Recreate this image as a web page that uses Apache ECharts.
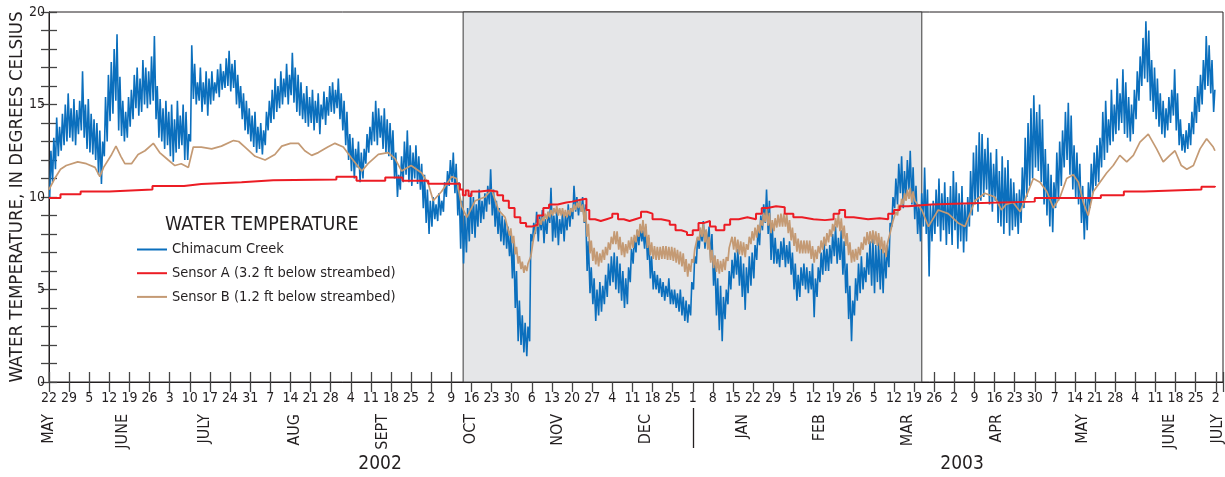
<!DOCTYPE html>
<html>
<head>
<meta charset="utf-8">
<script src="https://cdn.jsdelivr.net/npm/echarts@6/dist/echarts.min.js"></script>
<style>
html,body{margin:0;padding:0;background:#fff;}
#chart{width:1225px;height:477px;}
</style>
</head>
<body>
<div id="chart"></div>
<script>
// Day 0 = 22 May 2002. Values in degrees Celsius.
const weekTickLabels = ['22','29','5','12','19','26','3','10','17','24','31','7','14','21','28','4','11','18','25','2','9','16','23','30','6','13','20','27','4','11','18','25','1','8','15','22','29','5','12','19','26','5','12','19','26','2','9','16','23','30','7','14','21','28','4','11','18','25','2'];
const monthLabels = ['MAY','JUNE','JULY','AUG','SEPT','OCT','NOV','DEC','JAN','FEB','MAR','APR','MAY','JUNE','JULY'];
const monthLabelDays = [0, 25.7, 54.3, 85.6, 116.2, 146.8, 177.1, 207.7, 241.5, 268.3, 298.9, 329.9, 359.8, 390, 406.8];
const yearLabels = ['2002','2003'];
const yearLabelDays = [115.2, 317.7];
const yearBreakDay = 224;
const shadedPeriod = [144.1, 303.7];

// Chimacum Creek: daily maximum and minimum (one value per day from day 0)
const creekHigh = [
12.5,13.2,14.3,13.8,14.5,15.0,15.6,
14.8,15.3,14.7,15.2,16.8,15.0,15.3,
14.5,14.2,14.0,13.6,13.0,15.4,16.6,
17.3,18.0,18.8,16.5,15.2,14.6,15.4,
15.8,16.6,17.0,16.4,17.4,17.0,16.8,
17.6,18.7,16.0,15.3,14.8,15.2,14.6,
15.0,14.2,15.2,14.4,15.0,14.6,13.4,
18.2,17.2,16.2,17.0,16.2,16.8,16.4,
16.8,16.2,16.9,17.2,16.8,17.5,17.9,
17.2,17.4,16.6,16.0,15.6,15.2,14.8,
14.4,14.6,13.8,14.0,13.6,14.6,15.2,
15.8,16.4,16.0,16.8,16.4,17.2,16.6,
17.8,17.0,16.6,16.2,15.6,16.0,15.4,
15.8,15.2,15.6,15.0,15.7,15.4,16.0,
16.2,15.8,16.4,15.6,15.2,14.6,13.4,
13.2,12.6,13.0,12.4,12.6,13.4,13.8,
14.6,15.2,14.8,14.4,14.8,14.2,14.0,
13.6,12.4,11.2,12.2,13.0,13.6,12.8,
12.4,12.8,12.2,11.8,11.2,10.4,9.8,
10.0,9.6,10.2,9.8,10.8,11.4,12.0,
12.4,11.8,10.8,9.8,9.0,9.4,10.2,
10.0,9.6,10.4,9.8,10.2,10.6,11.5,
10.4,9.8,9.4,9.0,8.8,8.4,8.0,
7.6,6.0,4.4,3.6,3.2,3.0,8.0,
8.6,9.2,9.0,9.3,8.8,9.2,10.5,
9.0,9.4,8.8,9.2,9.0,9.6,9.4,
10.6,10.0,9.8,10.0,9.6,7.6,6.2,
5.6,5.0,5.4,5.2,5.8,6.4,6.8,
7.0,6.8,6.4,6.0,5.6,6.2,7.2,
7.8,8.2,8.4,8.2,8.4,7.8,6.8,
6.0,5.8,5.6,5.4,5.2,5.6,5.0,
5.0,4.8,5.0,4.6,4.4,4.2,5.4,
6.8,7.8,8.2,8.7,8.2,8.4,8.0,
6.8,5.6,5.2,4.6,5.0,6.0,6.6,
7.0,7.2,6.8,6.4,6.2,6.8,7.0,
7.4,8.2,9.0,9.6,10.4,9.8,8.4,
7.8,7.2,7.6,7.8,7.4,7.6,7.0,
6.4,5.8,6.2,6.4,6.2,6.0,6.4,
5.6,6.2,7.0,7.6,7.2,7.4,8.0,
8.4,7.8,8.2,7.6,6.4,5.2,4.4,
5.6,6.4,6.8,6.2,7.0,7.6,7.8,
7.4,7.6,7.2,7.0,7.4,8.6,10.0,
11.0,11.8,12.2,11.4,12.0,12.5,11.6,
10.6,9.6,10.2,11.6,10.4,9.6,9.8,
10.4,11.0,10.2,10.8,10.0,10.6,11.4,
10.8,10.2,10.6,9.6,10.0,11.4,12.4,
12.8,13.5,13.4,12.6,13.2,12.4,11.8,
12.6,11.4,12.2,11.6,12.0,11.0,10.8,
10.2,10.4,11.6,13.2,14.0,14.8,15.5,
14.6,15.0,14.2,12.6,11.8,11.2,10.8,
12.4,13.0,13.6,14.6,15.1,14.4,12.8,
12.4,11.8,10.6,10.0,10.8,11.8,12.4,
12.8,13.2,14.6,15.2,14.2,15.8,15.0,
16.4,15.6,16.9,16.2,15.4,15.0,15.8,
16.8,17.6,18.6,19.5,19.0,17.4,17.0,
16.4,15.6,15.2,14.8,15.4,15.8,16.9,
15.6,14.2,13.4,13.6,14.0,14.6,15.4,
16.0,16.6,17.4,18.7,18.2,17.4,15.8
];
const creekLow = [
10.0,10.8,11.5,12.2,12.5,12.8,13.0,
13.2,13.0,12.8,13.4,13.6,13.2,12.6,
12.4,12.3,12.0,11.2,10.7,12.2,13.0,
14.1,14.5,15.2,13.6,13.3,13.0,13.2,
13.8,14.2,14.8,14.4,14.6,15.0,14.8,
15.0,15.2,14.2,13.2,13.0,12.6,12.8,
12.2,11.9,12.4,12.6,12.8,12.0,12.0,
13.0,15.3,15.0,15.2,14.6,15.0,14.4,
15.0,15.2,15.6,15.4,15.8,15.9,16.0,
15.7,15.9,15.0,14.8,14.2,13.6,13.4,
13.0,12.7,12.4,12.6,12.3,12.8,13.6,
14.0,14.2,14.6,14.8,15.0,15.4,15.0,
15.5,15.1,14.6,14.4,14.2,14.0,13.8,
14.0,13.6,14.0,13.4,14.2,13.9,14.4,
14.6,14.5,14.8,14.2,13.6,12.8,12.0,
11.4,11.0,11.6,10.8,11.0,11.8,12.4,
12.8,13.0,12.8,13.2,12.6,12.4,12.2,
12.0,11.0,10.0,10.4,10.8,11.2,10.8,
10.6,11.0,10.7,10.4,9.4,8.6,8.0,
8.4,8.8,8.7,9.0,9.2,10.0,10.6,
10.8,10.2,9.0,7.2,6.4,7.0,7.6,
8.0,7.8,8.4,8.6,8.8,9.2,9.6,
9.0,8.4,8.0,7.6,7.4,7.2,6.8,
5.6,4.0,2.2,2.0,1.6,1.4,2.2,
7.6,8.0,7.6,8.2,7.5,8.0,8.6,
7.6,7.8,7.4,8.0,7.6,8.2,8.4,
8.8,9.2,9.0,9.2,8.6,6.0,4.8,
4.2,3.3,3.6,3.8,4.2,4.6,5.2,
5.4,5.0,4.8,4.4,4.0,4.2,5.4,
6.4,7.0,7.4,7.6,7.2,6.6,5.6,
5.0,5.0,4.8,4.6,4.4,4.6,4.2,
4.2,4.0,3.8,3.6,3.3,3.2,3.6,
5.0,6.4,7.2,7.6,7.2,7.4,6.6,
5.2,3.6,2.8,2.2,3.4,4.2,5.0,
5.6,5.8,5.2,4.6,3.9,4.8,5.2,
5.6,6.6,7.4,8.2,8.6,8.0,6.6,
6.4,6.4,6.2,6.6,6.2,6.4,5.8,
5.0,4.4,4.6,5.2,5.0,4.8,5.0,
3.5,4.6,5.4,5.8,6.0,6.0,6.4,
6.8,6.4,6.6,5.8,4.8,3.4,2.2,
3.6,4.4,4.8,5.0,5.4,5.8,5.2,
4.8,5.4,5.0,4.8,5.6,6.2,8.4,
9.4,9.6,10.2,9.4,10.0,10.4,9.6,
8.8,8.0,7.6,8.4,8.0,5.7,7.6,
8.0,8.4,7.6,8.2,7.4,8.0,7.4,
8.2,7.2,7.6,7.0,7.6,8.4,9.0,
9.6,9.2,9.8,10.0,10.4,9.6,9.2,
9.8,8.6,8.4,8.0,8.6,7.9,8.2,
8.4,8.0,8.6,9.4,10.0,10.6,11.0,
11.6,11.4,10.8,9.6,9.0,8.4,8.1,
9.4,9.8,10.6,11.6,12.0,11.2,10.4,
10.0,9.6,8.6,7.7,8.2,9.4,10.2,
10.6,10.8,11.6,12.0,12.4,12.8,13.0,
13.4,13.6,14.0,13.4,13.2,13.0,13.4,
14.2,15.2,16.0,16.4,16.2,15.2,14.6,
14.2,13.8,13.4,13.2,13.6,14.0,14.4,
13.6,12.8,12.5,12.4,12.6,12.8,13.4,
14.0,14.6,15.0,15.8,16.0,15.6,14.6
];

// Sensor A (3.2 ft): value holds until the next listed day
const sensorADays = [0,4,11,21,36,47,53,67,78,100,107,117,123,132,143,144,145,146,147,150,153,156,158,160,162,164,166,168,170,172,174,177,180,182,185,187,188,190,192,194,196,198,200,202,204,206,208,210,213,216,218,220,222,224,226,228,230,232,235,237,240,243,246,248,250,253,256,259,262,266,270,273,275,277,280,285,289,292,294,296,299,307,318,343,366,374,381,401,405.7];
const sensorAValues = [9.95,10.15,10.3,10.4,10.6,10.7,10.8,10.9,10.95,11.1,10.88,11.05,10.88,10.72,10.4,10.1,10.35,10.05,10.3,10.35,10.3,10.1,9.8,9.4,8.9,8.6,8.4,8.5,9.0,9.4,9.6,9.7,9.75,9.85,9.9,9.3,8.8,8.7,8.8,8.9,9.1,8.8,8.7,8.8,8.9,9.2,9.1,8.8,8.7,8.5,8.2,8.1,7.95,8.2,8.6,8.7,8.4,8.2,8.5,8.8,8.9,8.8,9.1,9.4,9.5,9.45,9.1,8.9,8.8,8.75,8.8,9.1,9.3,8.9,8.8,8.85,8.8,9.1,9.3,9.5,9.6,9.65,9.75,9.95,10.1,10.3,10.4,10.55,10.6];

// Sensor B (1.2 ft), before the winter band
const sensorBEarlyDays = [0,0.5,2,4,6,10,13,16,17.7,19,21.8,23.3,25,26.4,28.7,31,33.4,36.3,38.5,41.5,43.8,46,48.5,50.2,53,56.6,60,64.2,66,68.2,71.7,75.2,78.6,81,84,86.8,89,91.4,93.7,97,99.5,102.4,105.3,108.8,111,114.6,118,120.4,122.7,126,129.7,132,133.7,136.6,140.1,141.8,143.6,145.4,148.3,151.7,154,156.4,158.7];
const sensorBEarlyValues = [10.4,10.5,11.0,11.5,11.7,11.9,11.8,11.6,11.1,11.6,12.3,12.75,12.2,11.8,11.8,12.3,12.5,12.9,12.4,12.0,11.7,11.8,11.6,12.7,12.7,12.6,12.75,13.05,13.0,12.7,12.2,12.0,12.3,12.75,12.9,12.9,12.5,12.25,12.4,12.7,12.9,12.7,12.1,11.4,11.8,12.3,12.4,12.07,11.4,11.7,11.3,10.7,9.8,10.3,11.1,11.0,9.5,8.9,9.8,10.0,10.4,9.3,8.9];
// Sensor B daily low / high, days 160..300 (winter band)
const sensorBWinterFirstDay = 160;
const sensorBWinterLow = [7.9,7.5,6.9,6.4,6.1,5.9,6.0,6.4,7.4,8.2,8.4,8.5,8.7,8.8,8.9,9.0,9.1,9.0,9.0,8.9,8.9,9.0,9.2,9.3,9.4,9.2,
8.65,7.85,6.95,6.55,6.35,6.25,6.45,6.6,6.85,7.15,7.45,7.45,7.15,6.85,6.75,6.95,7.15,7.25,7.55,7.85,8.05,7.85,7.25,6.85,
6.65,6.6,6.6,6.65,6.65,6.6,6.6,6.55,6.45,6.35,6.25,5.95,5.7,5.95,6.45,7.15,7.65,7.85,7.55,7.15,6.45,6.15,5.95,5.85,5.95,6.05,6.55,7.15,
7.15,7.0,6.9,6.85,6.75,7.15,7.45,7.65,7.8,8.05,8.45,8.65,8.45,8.05,8.15,8.35,8.4,8.4,8.4,8.05,7.65,7.35,7.05,6.95,6.95,6.95,6.95,6.65,
6.45,6.65,6.95,7.15,7.35,7.55,7.85,8.15,8.35,8.15,7.75,7.35,6.85,6.45,6.5,6.6,6.85,7.15,7.4,7.45,7.5,7.45,7.35,7.15,6.95,6.75,7.35,
8.1,8.6,9.0,9.3,9.6,9.8,9.9,9.7];
const sensorBWinterHigh = [8.3,7.9,7.3,6.8,6.5,6.3,6.4,6.8,7.8,8.6,8.8,8.9,9.1,9.2,9.3,9.4,9.5,9.4,9.4,9.3,9.3,9.4,9.6,9.7,9.8,9.6,
9.35,8.55,7.65,7.25,7.05,6.95,7.15,7.3,7.55,7.85,8.15,8.15,7.85,7.55,7.45,7.65,7.85,7.95,8.25,8.55,8.75,8.55,7.95,7.55,
7.35,7.3,7.3,7.35,7.35,7.3,7.3,7.25,7.15,7.05,6.95,6.65,6.4,6.65,7.15,7.85,8.35,8.55,8.25,7.85,7.15,6.85,6.65,6.55,6.65,6.75,7.25,7.85,
7.85,7.7,7.6,7.55,7.45,7.85,8.15,8.35,8.5,8.75,9.15,9.35,9.15,8.75,8.85,9.05,9.1,9.1,9.1,8.75,8.35,8.05,7.75,7.65,7.65,7.65,7.65,7.35,
7.15,7.35,7.65,7.85,8.05,8.25,8.55,8.85,9.05,8.85,8.45,8.05,7.55,7.15,7.2,7.3,7.55,7.85,8.1,8.15,8.2,8.15,8.05,7.85,7.65,7.45,8.05,
8.7,9.2,9.6,9.9,10.2,10.4,10.5,10.3];
// Sensor B after the winter band
const sensorBLateDays = [301.3,303.7,306,309.4,312.9,316.3,318.7,322.2,325.6,329.1,331.4,333,335.5,337.9,340.2,342.5,344.8,347.2,349.5,351.8,354.1,356.4,358.2,359.9,361.6,363.4,365.7,368,370.3,372.6,375,377.3,379.6,382.5,385.4,387.7,390,391.8,394,395.9,398.2,400.5,402.8,405.1,405.7];
const sensorBLateValues = [9.8,9.3,8.4,9.3,9.1,8.6,8.4,9.8,10.2,10.0,9.3,9.6,9.7,9.2,10.1,11.0,10.8,10.3,9.4,10.0,11.0,11.2,10.8,9.7,9.0,10.3,10.8,11.3,11.7,12.25,11.9,12.25,12.97,13.4,12.6,11.9,12.25,12.5,11.7,11.5,11.7,12.6,13.15,12.7,12.5];

const seriesNames = ['Chimacum Creek','Sensor A (3.2 ft below streambed)','Sensor B (1.2 ft below streambed)'];

// ---- build series data ----
const creekData = [];
for (let i = 0; i < creekHigh.length; i++) {
  creekData.push([i + 0.25, creekLow[i]]);
  creekData.push([i + 0.67, creekHigh[i]]);
}
const sensorAData = sensorADays.map((d, i) => [d, sensorAValues[i]]);
const sensorBData = sensorBEarlyDays.map((d, i) => [d, sensorBEarlyValues[i]]);
for (let i = 0; i < sensorBWinterLow.length; i++) {
  sensorBData.push([sensorBWinterFirstDay + i + 0.25, sensorBWinterLow[i]]);
  sensorBData.push([sensorBWinterFirstDay + i + 0.67, sensorBWinterHigh[i]]);
}
sensorBLateDays.forEach((d, i) => sensorBData.push([d, sensorBLateValues[i]]));

const FONT = "'DejaVu Sans Condensed', 'Liberation Sans Narrow', sans-serif";
const INK = '#231f20';
const XMAX = 408.5;

const chart = echarts.init(document.getElementById('chart'), null, {renderer: 'canvas'});
const baseX = {type: 'value', min: 0, max: XMAX, gridIndex: 0, splitLine: {show: false}};
chart.setOption({
  animation: false,
  backgroundColor: '#ffffff',
  textStyle: {fontFamily: FONT, color: INK},
  title: {
    text: 'WATER TEMPERATURE',
    left: 165, top: 215,
    padding: 0,
    textStyle: {fontFamily: FONT, fontSize: 19.5, fontWeight: 'normal', color: INK}
  },
  legend: {
    data: seriesNames,
    orient: 'vertical',
    left: 137, top: 241,
    padding: 0,
    itemWidth: 30, itemHeight: 2, itemGap: 6.7,
    icon: 'rect',
    textStyle: {fontFamily: FONT, fontSize: 14.5, color: INK, lineHeight: 17}
  },
  grid: {left: 49, right: 2, top: 12, bottom: 95, show: true, borderColor: INK, borderWidth: 1, backgroundColor: 'transparent', outerBoundsMode: 'none', containLabel: false},
  xAxis: [
    Object.assign({}, baseX, {
      position: 'bottom', interval: 7,
      axisLine: {show: true, lineStyle: {color: INK, width: 1}},
      axisTick: {show: true, inside: true, length: 10, lineStyle: {color: '#444', width: 1.3}},
      axisLabel: {show: true, margin: 9, fontSize: 14, fontFamily: FONT, color: INK, showMinLabel: true, showMaxLabel: true, hideOverlap: false,
        formatter: function (v) { const k = Math.round(v / 7); return (Math.abs(v - k * 7) < 1e-6 && k < weekTickLabels.length) ? weekTickLabels[k] : ''; }}
    }),
    Object.assign({}, baseX, {
      position: 'top', interval: 7,
      axisLine: {show: true, lineStyle: {color: INK, width: 1}},
      axisTick: {show: true, inside: true, length: 10, lineStyle: {color: '#444', width: 1.3}},
      axisLabel: {show: false}
    }),
    Object.assign({}, baseX, {
      position: 'bottom',
      axisLine: {show: false}, axisTick: {show: false},
      axisLabel: {show: true, customValues: monthLabelDays, rotate: 90, margin: 32, fontSize: 16, fontFamily: FONT, color: INK, hideOverlap: false,
        formatter: function (v) { const i = monthLabelDays.indexOf(v); return i >= 0 ? monthLabels[i] : ''; }}
    }),
    Object.assign({}, baseX, {
      position: 'bottom',
      axisLine: {show: false}, axisTick: {show: false},
      axisLabel: {show: true, customValues: yearLabelDays, margin: 73, fontSize: 19, fontFamily: FONT, color: INK,
        formatter: function (v) { const i = yearLabelDays.indexOf(v); return i >= 0 ? yearLabels[i] : ''; }}
    }),
    Object.assign({}, baseX, {
      position: 'bottom', offset: 26,
      axisLine: {show: false},
      axisTick: {show: true, customValues: [yearBreakDay], inside: false, length: 40, lineStyle: {color: INK, width: 1.3}},
      axisLabel: {show: false}
    })
  ],
  yAxis: [
    {
      type: 'value', min: 0, max: 20, interval: 1, position: 'left',
      name: 'WATER TEMPERATURE, IN DEGREES CELSIUS',
      nameLocation: 'middle', nameGap: 22, nameRotate: 90, nameMoveOverlap: false,
      nameTextStyle: {fontFamily: FONT, fontSize: 18.5, color: INK},
      splitLine: {show: false},
      axisLine: {show: true, lineStyle: {color: INK, width: 1}},
      axisTick: {show: true, inside: true, length: 8, lineStyle: {color: '#444', width: 1.3}},
      axisLabel: {show: true, margin: 4, fontSize: 14, fontFamily: FONT, color: INK,
        formatter: function (v) { return v % 5 === 0 ? String(v) : ''; }}
    },
    {
      type: 'value', min: 0, max: 20, interval: 1, position: 'right',
      splitLine: {show: false},
      axisLine: {show: true, lineStyle: {color: INK, width: 1}},
      axisTick: {show: true, inside: true, length: 8, lineStyle: {color: '#444', width: 1.3}},
      axisLabel: {show: false}
    }
  ],
  series: [
    {
      name: 'shade', type: 'line', xAxisIndex: 0, yAxisIndex: 0, z: 1,
      data: [[0, -10]], showSymbol: false, silent: true, lineStyle: {opacity: 0},
      markArea: {
        silent: true,
        itemStyle: {color: '#e5e6e8', borderColor: '#3a3a3a', borderWidth: 1},
        data: [[{xAxis: shadedPeriod[0], yAxis: 0}, {xAxis: shadedPeriod[1], yAxis: 20}]]
      }
    },
    {
      name: seriesNames[0], type: 'line', xAxisIndex: 0, yAxisIndex: 0, z: 3,
      data: creekData, showSymbol: false, symbol: 'none', smooth: false,
      color: '#0b6fbd',
      lineStyle: {color: '#0b6fbd', width: 1.6}
    },
    {
      name: seriesNames[2], type: 'line', xAxisIndex: 0, yAxisIndex: 0, z: 4,
      data: sensorBData, showSymbol: false, symbol: 'none',
      color: '#c49a74',
      lineStyle: {color: '#c49a74', width: 1.7}
    },
    {
      name: seriesNames[1], type: 'line', xAxisIndex: 0, yAxisIndex: 0, z: 5,
      data: sensorAData, showSymbol: false, symbol: 'none', step: 'end',
      color: '#ec1c24',
      lineStyle: {color: '#ec1c24', width: 2}
    }
  ]
});
</script>
</body>
</html>
